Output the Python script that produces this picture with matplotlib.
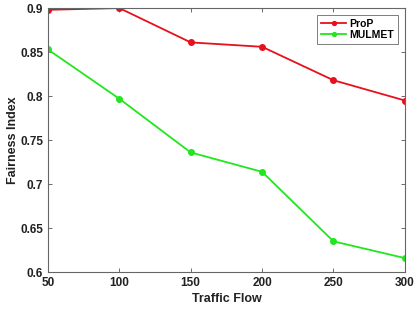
import numpy as np
import matplotlib
matplotlib.use("Agg")
import matplotlib.pyplot as plt

plt.rcParams['font.family'] = ['Liberation Sans', 'DejaVu Sans']
plt.rcParams['font.weight'] = 'bold'

traffic = [50, 100, 150, 200, 250, 300]
prop = [0.898, 0.900, 0.861, 0.856, 0.818, 0.795]
mulmet = [0.853, 0.797, 0.736, 0.714, 0.635, 0.616]

fig = plt.figure(figsize=(4.2, 3.1), dpi=100)
ax = fig.add_axes([0.114, 0.122, 0.85, 0.852])

ax.plot(traffic, prop, color='#e8101a', marker='o', markersize=4, linewidth=1.3, label='ProP')
ax.plot(traffic, mulmet, color='#22e61e', marker='o', markersize=4, linewidth=1.3, label='MULMET')

ax.set_xlim(50, 300)
ax.set_ylim(0.6, 0.9)
ax.set_xticks(traffic)
ax.set_yticks([0.6, 0.65, 0.7, 0.75, 0.8, 0.85, 0.9])
ax.set_yticklabels(['0.6', '0.65', '0.7', '0.75', '0.8', '0.85', '0.9'])
ax.tick_params(direction='in', length=3, width=0.6, colors='#555555', labelcolor='#222222',
               labelsize=8.5, top=True, right=True)
for s in ax.spines.values():
    s.set_color('#666666')
    s.set_linewidth(0.8)

ax.set_xlabel('Traffic Flow', fontsize=9, fontweight='bold', color='#222222', labelpad=3)
ax.set_ylabel('Fairness Index', fontsize=9, fontweight='bold', color='#222222')
ax.yaxis.set_label_coords(-0.082, 0.5)

leg = ax.legend(loc='upper right', fontsize=7.5, frameon=True, fancybox=False, borderpad=0.35,
                handlelength=2.4, handletextpad=0.3, labelspacing=0.1, borderaxespad=0.7,
                markerscale=0.7)
leg.get_frame().set_edgecolor('#444444')
leg.get_frame().set_linewidth(0.6)

fig.savefig('out.png', dpi=100)
